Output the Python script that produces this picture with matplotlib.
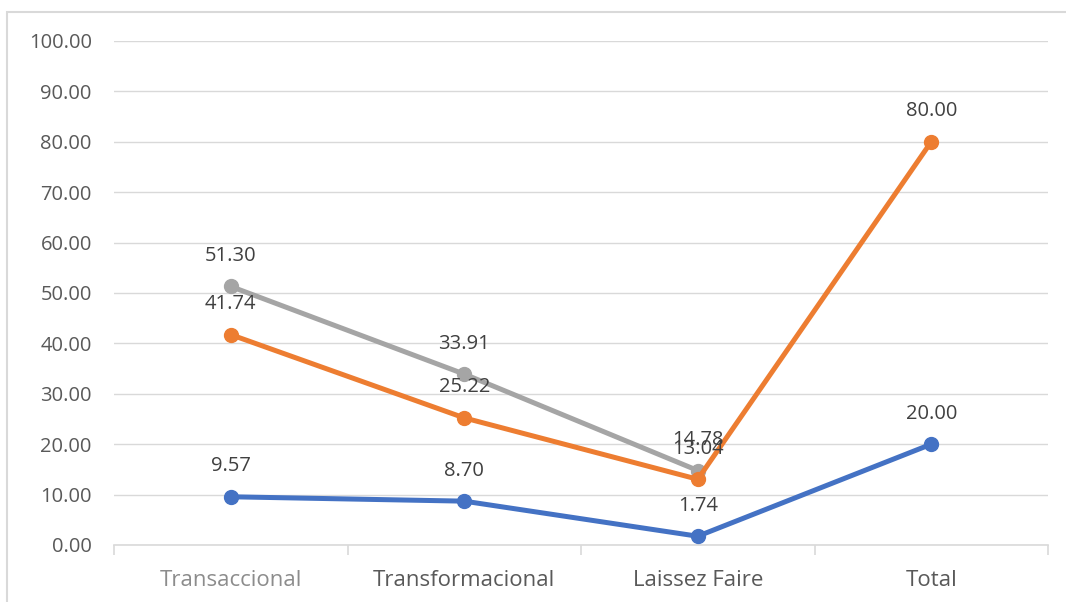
import matplotlib.pyplot as plt
from matplotlib.patches import Rectangle

categories = ['Transaccional', 'Transformacional', 'Laissez Faire', 'Total']
serie_azul = [9.57, 8.70, 1.74, 20.00]
serie_naranja = [41.74, 25.22, 13.04, 80.00]
serie_gris = [51.30, 33.91, 14.78]

plt.rcParams['font.family'] = ['Open Sans', 'DejaVu Sans']

fig = plt.figure(figsize=(10.66, 6.02), dpi=100)
ax = fig.add_axes([114 / 1066, 1 - 545 / 602, (1048 - 114) / 1066, (545 - 41) / 602])

# chart frame
fig.patches.append(Rectangle((7 / 1066, -0.05), 1.1, 1 - 12 / 602 + 0.05,
                             transform=fig.transFigure, fill=False,
                             edgecolor='#d9d9d9', linewidth=1.5, zorder=0))

x = list(range(len(categories)))
for vals, color in [(serie_azul, '#4472C4'), (serie_gris, '#A5A5A5'),
                    (serie_naranja, '#ED7D31')]:
    xs = x[:len(vals)]
    ax.plot(xs, vals, color=color, linewidth=3.6, marker='o', markersize=10,
            solid_capstyle='round', zorder=3)
    for xi, v in zip(xs, vals):
        ax.annotate(f'{v:.2f}', (xi, v), xytext=(0, 22), textcoords='offset points',
                    ha='center', va='center', fontsize=14.5, color='#404040', zorder=4)

ax.set_xlim(-0.5, 3.5)
ax.set_ylim(0, 100)
ax.set_yticks(range(0, 101, 10))
ax.set_yticklabels([f'{v:.2f}' for v in range(0, 101, 10)])
ax.grid(axis='y', color='#d9d9d9', linewidth=1)
ax.set_axisbelow(True)

ax.set_xticks(x)
ax.set_xticklabels(categories)
ax.tick_params(axis='x', length=0, pad=18, labelsize=16, labelcolor='#595959')
ax.tick_params(axis='y', length=0, pad=16, labelsize=14.5, labelcolor='#595959')
ax.get_xticklabels()[0].set_color('#8c8c8c')

# boundary ticks between categories
ax.set_xticks([-0.5, 0.5, 1.5, 2.5, 3.5], minor=True)
ax.tick_params(axis='x', which='minor', length=7, color='#d9d9d9', width=1.2)

for side in ['top', 'right', 'left']:
    ax.spines[side].set_visible(False)
ax.spines['bottom'].set_color('#d9d9d9')
ax.spines['bottom'].set_linewidth(1.2)

fig.savefig('out.png', dpi=100)
